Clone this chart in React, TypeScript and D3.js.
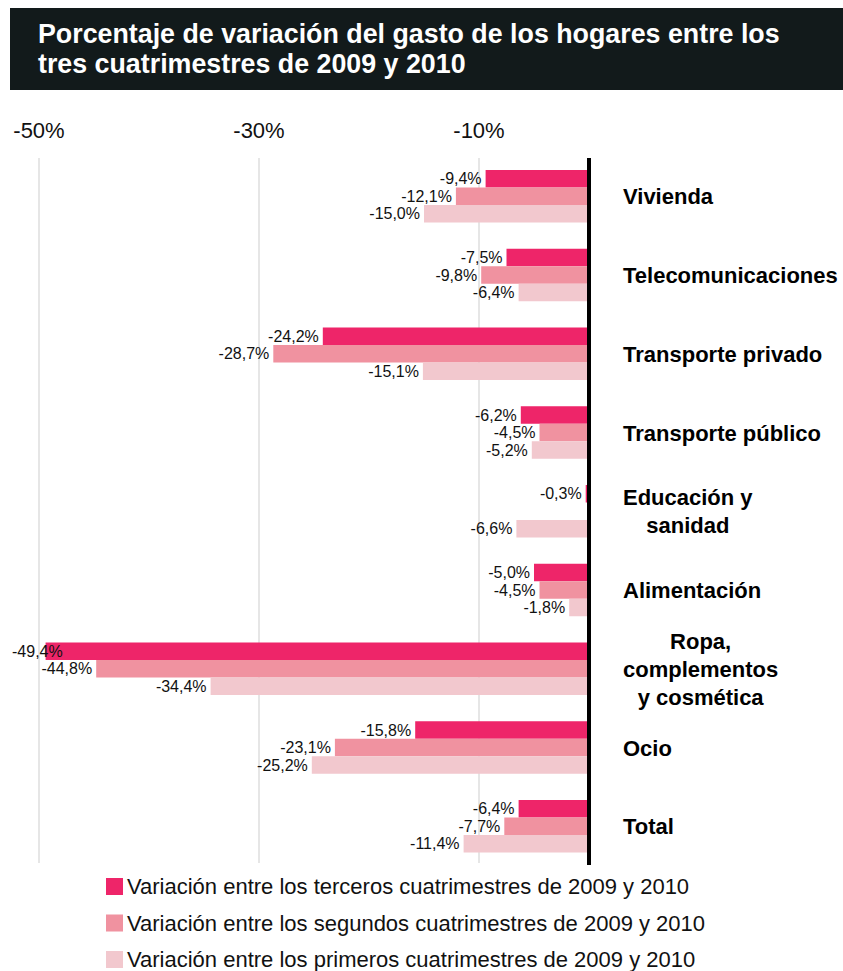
import React, { useEffect, useRef } from "react";
import * as d3 from "d3";

const titleLines = [
  "Porcentaje de variación del gasto de los hogares entre los",
  "tres cuatrimestres de 2009 y 2010",
];
const categories = [
  "Vivienda",
  "Telecomunicaciones",
  "Transporte privado",
  "Transporte público",
  "Educación y\nsanidad",
  "Alimentación",
  "Ropa,\ncomplementos\ny cosmética",
  "Ocio",
  "Total",
];
const seriesNames = [
  "Variación entre los terceros cuatrimestres de 2009 y 2010",
  "Variación entre los segundos cuatrimestres de 2009 y 2010",
  "Variación entre los primeros cuatrimestres de 2009 y 2010",
];
const terceros: (number | null)[] = [-9.4, -7.5, -24.2, -6.2, -0.3, -5.0, -49.4, -15.8, -6.4];
const segundos: (number | null)[] = [-12.1, -9.8, -28.7, -4.5, null, -4.5, -44.8, -23.1, -7.7];
const primeros: (number | null)[] = [-15.0, -6.4, -15.1, -5.2, -6.6, -1.8, -34.4, -25.2, -11.4];
const tickValues = [-50, -30, -10];
const colors = ["#ee2569", "#f092a0", "#f2c8ce"];

const W = 843;
const H = 971;

export default function App() {
  const ref = useRef<SVGSVGElement | null>(null);

  useEffect(() => {
    const svg = d3.select(ref.current);
    svg.selectAll("*").remove();
    const font = "'Liberation Sans', Arial, Helvetica, sans-serif";

    // header
    svg.append("rect").attr("x", 10).attr("y", 8).attr("width", W - 10).attr("height", 82).attr("fill", "#121a1b");
    titleLines.forEach((t, i) => {
      svg
        .append("text")
        .attr("x", 38)
        .attr("y", 43 + i * 30)
        .attr("fill", "#fff")
        .attr("font-family", font)
        .attr("font-weight", "bold")
        .attr("font-size", 26.8)
        .text(t);
    });

    const x = d3.scaleLinear().domain([-50, 0]).range([39, 589]);
    const y = d3.scaleBand<string>().domain(categories).range([170, 852.5]).paddingInner(1 / 3).paddingOuter(0);
    const series = [terceros, segundos, primeros];
    const sub = d3.scaleBand<number>().domain([0, 1, 2]).range([0, y.bandwidth()]);

    const gridTop = 158;
    const gridBottom = 863;

    // gridlines
    svg
      .selectAll("line.grid")
      .data(tickValues)
      .join("line")
      .attr("x1", (d) => x(d))
      .attr("x2", (d) => x(d))
      .attr("y1", gridTop)
      .attr("y2", gridBottom)
      .attr("stroke", "#dedede")
      .attr("stroke-width", 1.5);

    svg
      .selectAll("text.tick")
      .data(tickValues)
      .join("text")
      .attr("x", (d) => x(d))
      .attr("y", 138)
      .attr("text-anchor", "middle")
      .attr("font-family", font)
      .attr("font-size", 22)
      .attr("fill", "#111")
      .text((d) => `${d}%`);

    // bars
    const fmt = (v: number) => `${v.toFixed(1).replace(".", ",")}%`;
    series.forEach((vals, si) => {
      categories.forEach((c, ci) => {
        const v = vals[ci];
        if (v === null || v === undefined) return;
        const y0 = (y(c) as number) + (sub(si) as number);
        const h = sub.bandwidth();
        svg
          .append("rect")
          .attr("x", x(v))
          .attr("y", y0)
          .attr("width", x(0) - x(v))
          .attr("height", h)
          .attr("fill", colors[si]);
        const t = svg
          .append("text")
          .attr("text-anchor", "end")
          .attr("font-family", font)
          .attr("font-size", 16)
          .attr("fill", "#111")
          .attr("y", y0 + h / 2 + 5.5)
          .text(fmt(v));
        const tw = (t.node() as SVGTextElement).getComputedTextLength();
        t.attr("x", Math.max(x(v) - 4, 12 + tw));
      });
    });

    // zero line
    svg
      .append("line")
      .attr("x1", x(0))
      .attr("x2", x(0))
      .attr("y1", gridTop)
      .attr("y2", gridBottom + 2)
      .attr("stroke", "#000")
      .attr("stroke-width", 4);

    // category labels
    const labelX = 623;
    const lineH = 28;
    categories.forEach((c) => {
      const lines = c.split("\n");
      const cy = (y(c) as number) + y.bandwidth() / 2;
      const g = svg.append("g");
      const texts = lines.map((ln, li) =>
        g
          .append("text")
          .attr("font-family", font)
          .attr("font-weight", "bold")
          .attr("font-size", 22)
          .attr("fill", "#000")
          .attr("y", cy + 8 + (li - (lines.length - 1) / 2) * lineH)
          .text(ln)
      );
      if (lines.length === 1) {
        texts[0].attr("x", labelX).attr("text-anchor", "start");
      } else {
        const maxW = d3.max(texts, (t) => (t.node() as SVGTextElement).getComputedTextLength()) || 0;
        texts.forEach((t) => t.attr("x", labelX + maxW / 2).attr("text-anchor", "middle"));
      }
    });

    // legend
    seriesNames.forEach((n, i) => {
      const ly = 886 + i * 36.5;
      svg.append("rect").attr("x", 106).attr("y", ly - 8).attr("width", 17).attr("height", 17).attr("fill", colors[i]);
      svg
        .append("text")
        .attr("x", 127)
        .attr("y", ly + 8)
        .attr("font-family", font)
        .attr("font-size", 22)
        .attr("fill", "#111")
        .text(n);
    });
  }, []);

  return (
    <svg
      ref={ref}
      width={W}
      height={H}
      style={{ position: "absolute", left: 0, top: 0, background: "#fff" }}
    />
  );
}
